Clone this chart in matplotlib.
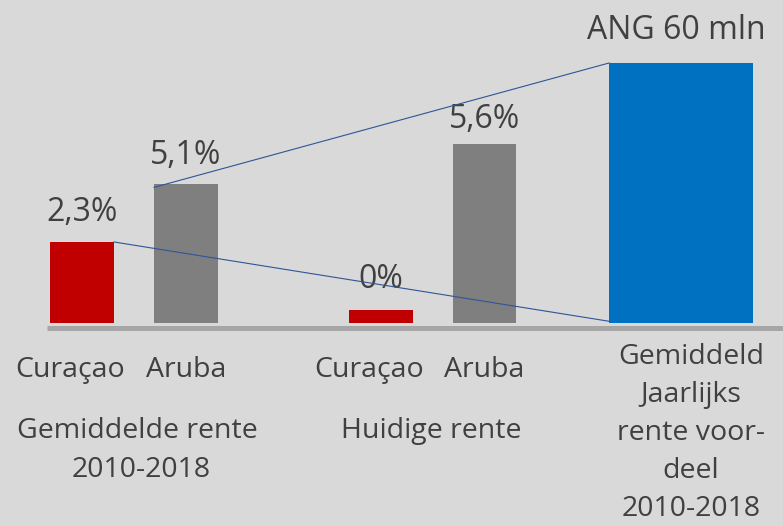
import matplotlib
matplotlib.use("Agg")
import matplotlib.pyplot as plt

# ---- data ----
categories = ["Curaçao", "Aruba", "Curaçao", "Aruba", "ANG"]
value_labels = ["2,3%", "5,1%", "0%", "5,6%", "ANG 60 mln"]
# bar heights (scale: blue bar = 60)
bar_heights = [18.7, 32.1, 3.0, 41.3, 60.0]
bar_colors = ["#c00000", "#7f7f7f", "#c00000", "#7f7f7f", "#0070c0"]
group_labels = ["Gemiddelde rente\n2010-2018", "Huidige rente"]
right_label = ["Gemiddeld", "Jaarlijks", "rente voor-", "deel", "2010-2018"]

W, H = 783, 526
BG = "#d9d9d9"
TXT = "#404040"
FONT = "Open Sans"

fig = plt.figure(figsize=(W / 100, H / 100), dpi=100, facecolor=BG)
ax = fig.add_axes([0, 0, 1, 1])
ax.set_facecolor(BG)
ax.axis("off")

# layout (unit = 104 px horizontally, 60 units = 260 px vertically)
positions = [0, 1, 2.875, 3.87, 5.76]
widths = [0.615, 0.615, 0.615, 0.615, 1.385]
px_per_x = 104.0
px_per_y = 260.0 / 60.0
base_px = 323.0
ax.set_xlim(-82 / px_per_x, (W - 82) / px_per_x)
ax.set_ylim(-(H - base_px) / px_per_y, base_px / px_per_y)

ax.bar(positions, bar_heights, width=widths, color=bar_colors, zorder=3)

# axis line
ax.plot([-35 / px_per_x, (W - 82) / px_per_x], [-4.5 / px_per_y] * 2,
        color="#a6a6a6", lw=3.6, solid_capstyle="butt", zorder=2)

# connecting lines
blue_left = positions[4] - widths[4] / 2
ar_left = positions[1] - widths[1] / 2
cu_right = positions[0] + widths[0] / 2
ax.plot([ar_left, blue_left], [bar_heights[1] - 0.8, bar_heights[4]],
        color="#2f5597", lw=0.8, zorder=4)
ax.plot([cu_right, blue_left], [bar_heights[0], 0.4],
        color="#2f5597", lw=0.8, zorder=4)

# value labels
offsets_px = [21, 20, 22, 16, 24]
for x, h, lab, off in zip(positions, bar_heights, value_labels, offsets_px):
    ax.text(x - (0.05 if lab == "ANG 60 mln" else 0), h + off / px_per_y, lab,
            ha="center", va="baseline", fontsize=23, color=TXT, family=FONT)

def ftext(px, py, s, size=20.5, **kw):
    fig.text(px / W, 1 - py / H, s, ha="center", va="baseline",
             fontsize=size, color=TXT, family=FONT, **kw)

# category labels
cat_px = [70, 186, 369, 484]
for px, c in zip(cat_px, categories[:4]):
    ftext(px, 377, c)

ftext(137, 438, "Gemiddelde rente")
ftext(141, 477, "2010-2018")
ftext(431, 438, "Huidige rente")

for i, s in enumerate(right_label):
    ftext(691, 364 + i * 38, s)

fig.savefig("out.png", dpi=100, facecolor=BG)
